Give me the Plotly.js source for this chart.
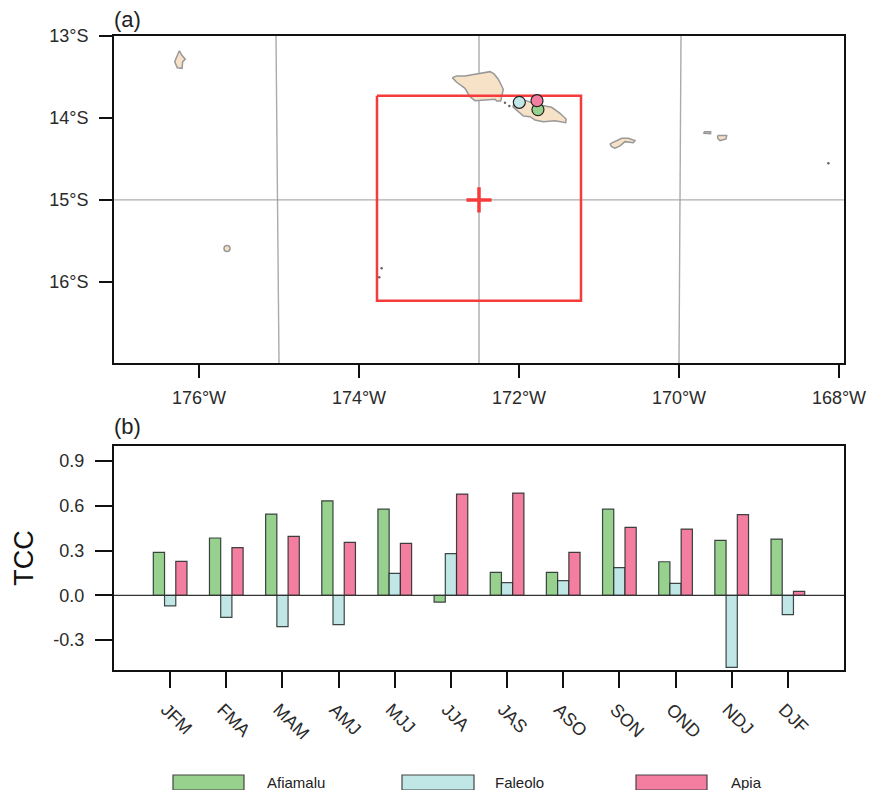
<!DOCTYPE html>
<html>
<head>
<meta charset="utf-8">
<script src="https://cdn.plot.ly/plotly-3.0.1.min.js"></script>
<style>html,body{margin:0;padding:0;background:#fff;overflow:hidden}#chart{width:876px;height:790px}</style>
</head>
<body>
<div id="chart"></div>
<script>
// ---- panel (b) data ----
const seasons = ['JFM','FMA','MAM','AMJ','MJJ','JJA','JAS','ASO','SON','OND','NDJ','DJF'];
const seasonPos = [1,2,3,4,5,6,7,8,9,10,11,12];
const afiamalu = [0.288,0.384,0.544,0.633,0.577,-0.045,0.154,0.154,0.577,0.225,0.368,0.377];
const faleolo  = [-0.07,-0.147,-0.21,-0.196,0.147,0.279,0.085,0.098,0.185,0.08,-0.482,-0.129];
const apia     = [0.227,0.319,0.395,0.355,0.348,0.678,0.685,0.288,0.455,0.444,0.54,0.027];

// ---- panel (a) data ----
const savaiiLon = [-172.834,-172.779,-172.675,-172.550,-172.446,-172.362,-172.312,-172.259,-172.196,-172.216,-172.229,-172.279,-172.300,-172.425,-172.550,-172.613,-172.675,-172.779,-172.834];
const savaiiLat = [-13.508,-13.488,-13.488,-13.467,-13.455,-13.435,-13.463,-13.528,-13.650,-13.720,-13.793,-13.793,-13.772,-13.780,-13.789,-13.740,-13.638,-13.565,-13.508];
const upoluLon = [-172.079,-172.030,-171.913,-171.821,-171.675,-171.592,-171.487,-171.412,-171.416,-171.550,-171.696,-171.800,-171.862,-171.945,-172.008,-172.079];
const upoluLat = [-13.862,-13.780,-13.789,-13.821,-13.854,-13.870,-13.943,-14.012,-14.057,-14.033,-14.045,-14.024,-13.984,-13.976,-13.923,-13.862];
const tutuilaLon = [-170.863,-170.800,-170.717,-170.634,-170.550,-170.571,-170.675,-170.737,-170.800,-170.842,-170.863];
const tutuilaLat = [-14.317,-14.289,-14.248,-14.248,-14.276,-14.301,-14.289,-14.341,-14.370,-14.350,-14.317];
const ofuLon = [-169.688,-169.605,-169.605,-169.688,-169.688];
const ofuLat = [-14.167,-14.167,-14.191,-14.187,-14.167];
const tauLon = [-169.517,-169.404,-169.412,-169.487,-169.517,-169.517];
const tauLat = [-14.215,-14.215,-14.256,-14.276,-14.248,-14.215];
const swainsLon = [-176.246,-176.216,-176.172,-176.204,-176.212,-176.271,-176.304,-176.279,-176.246];
const swainsLat = [-13.179,-13.232,-13.284,-13.313,-13.394,-13.387,-13.313,-13.244,-13.179];
const specksLon = [-172.175,-172.121,-173.717,-173.747,-168.133];
const specksLat = [-13.813,-13.854,-15.833,-15.943,-14.553];
const niuafoLon = [-175.650];
const niuafoLat = [-15.594];
const stationLon = [-171.763,-171.996,-171.775];
const stationLat = [-13.898,-13.809,-13.789];
const boxLon = [-173.775,-171.225,-171.225,-173.775,-173.775];
const boxLat = [-13.73,-13.73,-16.23,-16.23,-13.73];
const centerLon = [-172.5];
const centerLat = [-15];
const meridianLon = [[-175.0375,-175.0],[-172.5,-172.5],[-169.975,-170.0]];
const meridianLat = [-13,-16.99];
const lonTicks = [-176,-174,-172,-170,-168];
const lonLabels = ['176°W','174°W','172°W','170°W','168°W'];
const latTicks = [-13,-14,-15,-16];
const latLabels = ['13°S','14°S','15°S','16°S'];
const tccTicks = [-0.3,0,0.3,0.6,0.9];
const tccLabels = ['-0.3','0.0','0.3','0.6','0.9'];

const GREEN='#98d18e', BLUE='#c1e6e6', PINK='#f47ea0', LAND='#f7e2c8';
const FONT='Liberation Sans, Arial, sans-serif';
const W=876,H=790;
const px=(a,b)=>[a/W,b/W], py=(top,bot)=>[1-bot/H,1-top/H];

function land(lon,lat){
  return {type:'scatter',mode:'lines',x:lon,y:lat,xaxis:'x',yaxis:'y',fill:'toself',fillcolor:LAND,
    line:{color:'#999',width:1.5},hoverinfo:'skip',showlegend:false};
}
const traces=[];
meridianLon.forEach(m=>traces.push({type:'scatter',mode:'lines',x:m,y:meridianLat,xaxis:'x',yaxis:'y',
  line:{color:'#ababab',width:1.4},hoverinfo:'skip',showlegend:false}));
traces.push({type:'scatter',mode:'lines',x:[-177.06,-167.94],y:[-15,-15],xaxis:'x',yaxis:'y',
  line:{color:'#999',width:1},hoverinfo:'skip',showlegend:false});
[[savaiiLon,savaiiLat],[upoluLon,upoluLat],[tutuilaLon,tutuilaLat],[ofuLon,ofuLat],[tauLon,tauLat],[swainsLon,swainsLat]]
  .forEach(p=>traces.push(land(p[0],p[1])));
traces.push({type:'scatter',mode:'markers',x:niuafoLon,y:niuafoLat,xaxis:'x',yaxis:'y',
  marker:{size:6,color:LAND,line:{color:'#999',width:1.5}},showlegend:false});
traces.push({type:'scatter',mode:'markers',x:specksLon,y:specksLat,xaxis:'x',yaxis:'y',
  marker:{size:2.5,color:'#666'},showlegend:false});
traces.push({type:'scatter',mode:'lines',x:boxLon,y:boxLat,xaxis:'x',yaxis:'y',
  line:{color:'#f53b3b',width:2.5},hoverinfo:'skip',showlegend:false});
traces.push({type:'scatter',mode:'markers',x:centerLon,y:centerLat,xaxis:'x',yaxis:'y',
  marker:{symbol:'cross-thin',size:18,line:{color:'#f53b3b',width:3.5}},showlegend:false});
traces.push({type:'scatter',mode:'markers',x:stationLon,y:stationLat,xaxis:'x',yaxis:'y',
  marker:{size:12,color:[GREEN,BLUE,PINK],line:{color:'#222',width:1.2}},showlegend:false});

function bars(name,vals,col){
  return {type:'bar',name:name,x:seasonPos,y:vals,xaxis:'x2',yaxis:'y2',width:0.2,
    marker:{color:col,line:{color:'rgba(30,40,40,0.85)',width:1.2}},showlegend:false};
}
traces.push(bars('Afiamalu',afiamalu,GREEN),bars('Faleolo',faleolo,BLUE),bars('Apia',apia,PINK));

const axBase={showgrid:false,zeroline:false,showline:true,linecolor:'#111',linewidth:2,mirror:true,
  ticks:'outside',tickcolor:'#111',tickwidth:2,tickfont:{family:FONT,size:18,color:'#2a2a2a'},fixedrange:true};

const layout={
  width:W,height:H,margin:{l:0,r:0,t:0,b:0},paper_bgcolor:'#fff',plot_bgcolor:'#fff',
  font:{family:FONT,color:'#222'},barmode:'group',bargap:0.4,bargroupgap:0,showlegend:false,
  xaxis:Object.assign({},axBase,{domain:px(114,844),range:[-177.0625,-167.9375],tickmode:'array',tickvals:lonTicks,ticktext:lonLabels,ticklen:13,ticklabelstandoff:4,anchor:'y'}),
  yaxis:Object.assign({},axBase,{domain:py(36,363),range:[-16.99,-13],tickmode:'array',tickvals:latTicks,ticktext:latLabels,ticklen:13,ticklabelstandoff:7,anchor:'x'}),
  xaxis2:Object.assign({},axBase,{domain:px(114,844),range:[0,13],tickmode:'array',tickvals:seasonPos,ticktext:seasons,ticklen:16,tickangle:45,ticklabelshift:-4,ticklabelstandoff:4,anchor:'y2'}),
  yaxis2:Object.assign({},axBase,{domain:py(446,670),range:[-0.5,1.0],tickmode:'array',tickvals:tccTicks,ticktext:tccLabels,ticklen:17,ticklabelstandoff:7,anchor:'x2',
    title:{text:'TCC',font:{family:FONT,size:27,color:'#111'},standoff:12}}),
  shapes:[
    {type:'line',xref:'x2',yref:'y2',x0:0,x1:13,y0:0,y1:0,line:{color:'#333',width:1.2}},
    {type:'rect',xref:'paper',yref:'paper',x0:173/W,x1:244/W,y0:1-790/H,y1:1-775/H,fillcolor:GREEN,line:{color:'#444',width:1.2}},
    {type:'rect',xref:'paper',yref:'paper',x0:402/W,x1:474/W,y0:1-790/H,y1:1-775/H,fillcolor:BLUE,line:{color:'#444',width:1.2}},
    {type:'rect',xref:'paper',yref:'paper',x0:636/W,x1:707/W,y0:1-790/H,y1:1-775/H,fillcolor:PINK,line:{color:'#444',width:1.2}}
  ],
  annotations:[
    {text:'(a)',xref:'paper',yref:'paper',x:112/W,y:1-19/H,xanchor:'left',yanchor:'middle',showarrow:false,font:{family:FONT,size:22,color:'#222'}},
    {text:'(b)',xref:'paper',yref:'paper',x:112/W,y:1-426/H,xanchor:'left',yanchor:'middle',showarrow:false,font:{family:FONT,size:22,color:'#222'}},
    {text:'Afiamalu',xref:'paper',yref:'paper',x:265/W,y:1-782/H,xanchor:'left',yanchor:'middle',showarrow:false,font:{family:FONT,size:15,color:'#222'}},
    {text:'Faleolo',xref:'paper',yref:'paper',x:493/W,y:1-782/H,xanchor:'left',yanchor:'middle',showarrow:false,font:{family:FONT,size:15,color:'#222'}},
    {text:'Apia',xref:'paper',yref:'paper',x:729/W,y:1-782/H,xanchor:'left',yanchor:'middle',showarrow:false,font:{family:FONT,size:15,color:'#222'}}
  ]
};
Plotly.newPlot('chart',traces,layout,{displayModeBar:false,staticPlot:true});
</script>
</body>
</html>
